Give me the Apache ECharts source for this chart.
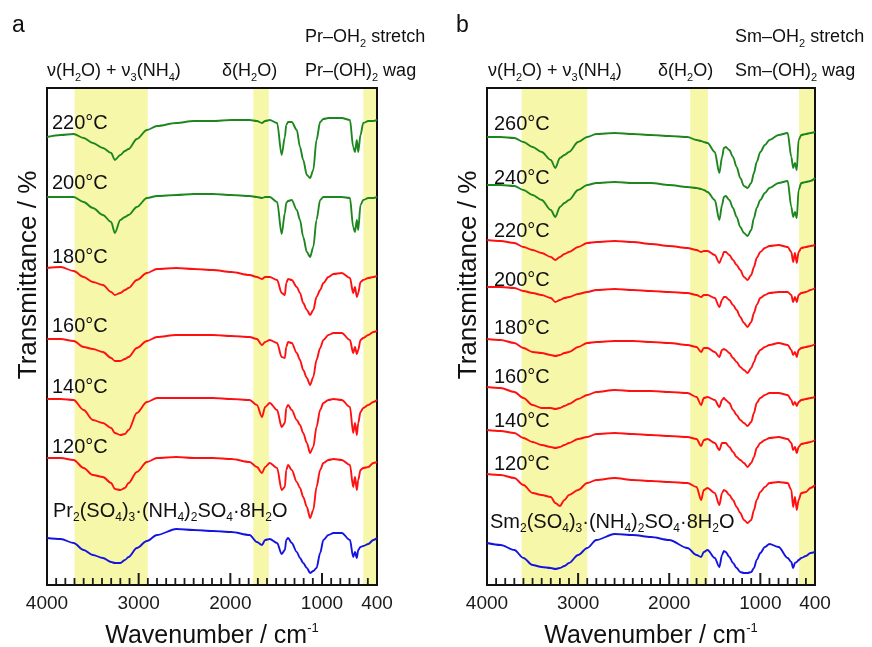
<!DOCTYPE html>
<html>
<head>
<meta charset="utf-8">
<script src="https://cdn.jsdelivr.net/npm/echarts@6.0.0/dist/echarts.min.js"></script>
<style>html,body{margin:0;padding:0;background:#fff}#main{width:872px;height:647px}</style>
</head>
<body>
<div id="main"></div>
<script>
var chartDom = document.getElementById('main');
var myChart = echarts.init(chartDom);

var FAM = '"Liberation Sans", Arial, sans-serif';
var green = '#1e861e', red = '#ff1010', blue = '#1414e0', bandColor = '#f7f7aa';

// wavenumber sampling (cm-1), panel a / panel b
var wnA = [4000, 3850, 3710, 3600, 3500, 3390, 3300, 3260, 3200, 3150, 3110, 3020, 2910, 2800, 2590, 2400, 2190, 1990, 1790, 1710, 1655, 1620, 1570, 1490, 1440, 1405, 1390, 1370, 1330, 1275, 1240, 1205, 1165, 1130, 1095, 1060, 1020, 985, 930, 875, 785, 695, 660, 640, 620, 605, 580, 550, 495, 440, 400];
var wnB = [4000, 3850, 3700, 3600, 3500, 3400, 3300, 3250, 3200, 3150, 3100, 3000, 2900, 2800, 2600, 2400, 2200, 2000, 1800, 1700, 1650, 1620, 1580, 1500, 1450, 1420, 1400, 1380, 1340, 1300, 1260, 1220, 1180, 1140, 1100, 1070, 1040, 1000, 950, 900, 800, 700, 660, 640, 620, 600, 580, 550, 500, 450, 400];

// stacked transmittance (a.u.), panel a (Pr)
var a220 = [448,450,451,447,442,437,432,425,430,434,436,446,455,459,462,464,464,465,465,464,462,464,465,462,430,448,460,463,463,455,438,425,410,407,415,445,463,466,467,467,467,465,438,433,445,433,450,462,464,464,465];
var a200 = [388,388,388,383,377,370,363,352,365,368,370,378,387,389,390,391,391,390,389,388,387,388,388,383,351,372,382,384,385,375,365,348,333,328,338,365,385,388,388,388,388,387,358,353,365,355,380,385,387,387,388];
var a180 = [317,318,314,308,303,300,293,290,292,295,297,305,312,316,317,316,315,313,310,308,306,308,308,305,292,290,302,306,305,298,292,282,275,270,275,288,295,302,308,311,312,307,292,298,288,292,303,305,307,308,309];
var a160 = [246,246,244,238,236,233,227,224,224,226,228,237,244,248,250,250,250,249,248,246,240,243,245,242,228,227,238,243,242,232,225,215,207,200,208,225,237,245,250,252,252,245,232,238,231,235,245,247,250,253,254];
var a140 = [186,186,185,175,165,162,157,152,150,151,155,172,183,187,187,187,187,186,185,180,168,178,182,175,158,162,177,180,175,165,160,152,142,132,138,158,175,182,185,186,185,178,152,162,150,162,173,177,180,183,185];
var a120 = [127,127,125,117,110,108,102,96,95,97,102,113,123,127,128,127,127,126,123,118,112,118,122,117,95,98,115,120,115,103,97,88,78,67,75,98,115,122,125,126,125,120,98,108,95,105,115,117,118,122,123];
var aPr = [47,46,42,35,30,27,23,22,22,25,28,37,44,50,56,55,54,53,50,43,40,45,46,42,31,35,45,47,42,33,27,22,17,12,14,17,32,45,50,52,52,45,28,33,27,35,38,39,41,45,47];

// panel b (Sm)
var b260 = [448,448,447,443,438,433,425,417,427,430,433,443,448,451,452,451,450,449,448,445,444,443,442,433,412,428,437,438,435,428,418,407,399,397,402,412,423,433,440,445,450,452,428,417,422,415,445,450,451,452,453];
var b240 = [400,400,399,395,390,385,375,368,378,382,385,395,400,402,403,402,402,400,398,397,396,395,393,385,365,380,388,389,385,377,368,358,352,349,355,367,377,385,392,397,402,404,378,368,373,367,395,402,403,404,407];
var b220 = [345,344,342,338,335,332,328,325,328,331,333,338,342,343,344,343,341,339,337,335,333,334,334,330,322,328,333,333,330,325,320,315,308,305,310,318,327,333,337,339,340,338,333,323,332,322,333,337,338,339,340];
var b200 = [298,298,297,294,292,290,287,283,285,287,288,291,293,295,296,295,294,293,292,290,288,290,290,287,278,285,288,288,285,280,275,268,262,258,263,272,280,287,290,292,293,293,290,283,288,283,290,292,293,295,297];
var b180 = [246,245,242,237,233,232,230,229,230,232,233,238,242,243,244,244,243,242,240,238,233,237,237,233,228,235,236,235,232,227,223,218,215,212,217,223,230,235,238,240,242,240,235,230,233,228,235,237,238,239,241];
var b160 = [198,197,193,187,180,177,177,176,177,179,181,186,190,193,195,194,194,193,192,188,180,187,188,185,178,185,187,185,182,175,170,165,162,159,163,172,182,187,190,192,192,190,185,180,183,179,183,185,186,187,188];
var b140 = [155,154,152,147,143,140,138,137,138,140,142,146,148,151,152,151,150,149,148,146,139,145,146,142,135,142,142,142,138,133,128,125,122,118,122,128,137,142,145,147,148,146,142,135,138,132,138,141,142,143,145];
var b120 = [111,110,107,100,92,90,88,82,79,85,90,95,102,105,107,105,104,103,102,98,85,95,97,92,80,92,95,94,90,85,78,72,65,62,65,75,85,93,98,102,103,102,95,78,88,75,85,92,93,97,100];
var bSm = [42,40,35,27,20,18,17,16,17,19,22,30,37,45,51,50,48,45,37,30,28,33,35,27,18,30,34,33,28,22,17,13,12,12,13,17,25,32,38,41,38,27,23,17,22,23,25,27,29,32,33];

// highlighted regions (cm-1)
var bandsA = [[3700, 2900], [1750, 1580], [550, 400]];
var bandsB = [[3620, 2900], [1770, 1575], [575, 400]];

var xLabels = [4000, 3000, 2000, 1000, 400];
var xMajor = [3000, 2000, 1000];
var xMinor = [];
for (var w = 500; w < 4000; w += 100) if (xMajor.indexOf(w) < 0) xMinor.push(w);

var Y_MAX = 497;

function curve(gi, wn, vals, color) {
  return {
    type: 'line', xAxisIndex: gi, yAxisIndex: gi,
    data: wn.map(function (x, i) { return [x, vals[i]]; }),
    symbol: 'none', showSymbol: false, smooth: 0.3, smoothMonotone: 'x',
    lineStyle: { color: color, width: 1.9 }, z: 3, silent: true
  };
}

function bands(gi, list) {
  return {
    type: 'custom', xAxisIndex: gi, yAxisIndex: gi, data: list, z: 1, silent: true,
    renderItem: function (params, api) {
      var p0 = api.coord([api.value(0), Y_MAX]);
      var p1 = api.coord([api.value(1), 0]);
      return {
        type: 'rect',
        shape: { x: Math.min(p0[0], p1[0]), y: p0[1], width: Math.abs(p1[0] - p0[0]), height: p1[1] - p0[1] },
        style: { fill: bandColor }
      };
    }
  };
}

// inward tick marks: one thin rect per wavenumber, through the axis scale
function ticks(gi, list, len, wid) {
  return {
    type: 'custom', xAxisIndex: gi, yAxisIndex: gi, z: 8, silent: true, clip: false,
    data: list.map(function (v) { return [v, 0]; }),
    renderItem: function (params, api) {
      var p = api.coord([api.value(0), 0]);
      return {
        type: 'rect',
        shape: { x: p[0] - wid / 2, y: p[1] - len, width: wid, height: len },
        style: { fill: '#1a1a1a' }
      };
    }
  };
}

function xAxisFor(gi) {
  return {
    type: 'value', gridIndex: gi, position: 'bottom', inverse: true, min: 400, max: 4000, z: 5,
    axisLine: { show: false, onZero: false },
    splitLine: { show: false },
    axisTick: { show: false },
    axisLabel: { customValues: xLabels, fontSize: 19, color: '#1a1a1a', fontFamily: FAM, margin: 9,
      formatter: function (v) { return String(v); } }
  };
}
function yAxisFor(gi) {
  return { type: 'value', gridIndex: gi, min: 0, max: Y_MAX, show: false };
}

function rs(size, lh, extra) {
  var o = { fontSize: size, fontFamily: FAM, font: size + 'px ' + FAM, lineHeight: lh, fill: '#111' };
  for (var k in extra) o[k] = extra[k];
  return o;
}

function txt(x, y, text, size, opt) {
  opt = opt || {};
  return {
    type: 'text', x: x, y: y, rotation: opt.rotation || 0, silent: true, z: 10,
    style: {
      text: text, fill: '#111', fontSize: size, fontFamily: FAM, font: size + 'px ' + FAM,
      align: opt.align || 'left', verticalAlign: 'middle',
      textAlign: opt.align || 'left', textVerticalAlign: 'middle',
      rich: opt.rich
    }
  };
}

var annRich = { n: rs(18, 25), s: rs(11, 11, { verticalAlign: 'bottom' }) };
var cmpRich = { n: rs(20, 26), s: rs(12, 12, { verticalAlign: 'bottom' }) };
var titleRich = { n: rs(25, 28), p: rs(13, 18, { verticalAlign: 'top' }) };

var nuLabel = '{n|ν(H}{s|2}{n|O) + ν}{s|3}{n|(NH}{s|4}{n|)}';
var deltaLabel = '{n|δ(H}{s|2}{n|O)}';

var tempsA = ['220°C', '200°C', '180°C', '160°C', '140°C', '120°C'];
var tempsAy = [123, 183, 257, 326, 387, 447];
var tempsB = ['260°C', '240°C', '220°C', '200°C', '180°C', '160°C', '140°C', '120°C'];
var tempsBy = [124, 178, 231, 280, 328, 377, 421, 464];

var graphics = [
  txt(12, 26, 'a', 23), txt(456, 26, 'b', 23),
  txt(47, 71, nuLabel, 18, { rich: annRich }),
  txt(222, 71, deltaLabel, 18, { rich: annRich }),
  txt(305, 37, '{n|Pr–OH}{s|2}{n| stretch}', 18, { rich: annRich }),
  txt(305, 71, '{n|Pr–(OH)}{s|2}{n| wag}', 18, { rich: annRich }),
  txt(488, 71, nuLabel, 18, { rich: annRich }),
  txt(658, 71, deltaLabel, 18, { rich: annRich }),
  txt(735, 37, '{n|Sm–OH}{s|2}{n| stretch}', 18, { rich: annRich }),
  txt(735, 71, '{n|Sm–(OH)}{s|2}{n| wag}', 18, { rich: annRich }),
  txt(53, 511, '{n|Pr}{s|2}{n|(SO}{s|4}{n|)}{s|3}{n|·(NH}{s|4}{n|)}{s|2}{n|SO}{s|4}{n|·8H}{s|2}{n|O}', 20, { rich: cmpRich }),
  txt(490, 522, '{n|Sm}{s|2}{n|(SO}{s|4}{n|)}{s|3}{n|·(NH}{s|4}{n|)}{s|2}{n|SO}{s|4}{n|·8H}{s|2}{n|O}', 20, { rich: cmpRich }),
  txt(29, 275, 'Transmittance / %', 26, { align: 'center', rotation: Math.PI / 2 }),
  txt(469, 275, 'Transmittance / %', 26, { align: 'center', rotation: Math.PI / 2 }),
  txt(212, 636, '{n|Wavenumber / cm}{p|-1}', 25, { align: 'center', rich: titleRich }),
  txt(651, 636, '{n|Wavenumber / cm}{p|-1}', 25, { align: 'center', rich: titleRich })
];
tempsA.forEach(function (t, i) { graphics.push(txt(52, tempsAy[i], t, 20)); });
tempsB.forEach(function (t, i) { graphics.push(txt(494, tempsBy[i], t, 20)); });

var gridStyle = { show: true, borderColor: '#111', borderWidth: 2, backgroundColor: 'transparent', containLabel: false, outerBoundsMode: 'none', z: 2 };
function gridAt(left, width) {
  var g = { left: left, top: 88, width: width, height: 497 };
  for (var k in gridStyle) g[k] = gridStyle[k];
  return g;
}

var option = {
  animation: false,
  backgroundColor: '#fff',
  grid: [gridAt(47, 330), gridAt(487, 328)],
  xAxis: [xAxisFor(0), xAxisFor(1)],
  yAxis: [yAxisFor(0), yAxisFor(1)],
  graphic: graphics,
  series: [
    bands(0, bandsA),
    ticks(0, xMinor, 7, 1.8),
    ticks(0, xMajor, 12, 2),
    curve(0, wnA, aPr, blue),
    curve(0, wnA, a120, red),
    curve(0, wnA, a140, red),
    curve(0, wnA, a160, red),
    curve(0, wnA, a180, red),
    curve(0, wnA, a200, green),
    curve(0, wnA, a220, green),
    bands(1, bandsB),
    ticks(1, xMinor, 7, 1.8),
    ticks(1, xMajor, 12, 2),
    curve(1, wnB, bSm, blue),
    curve(1, wnB, b120, red),
    curve(1, wnB, b140, red),
    curve(1, wnB, b160, red),
    curve(1, wnB, b180, red),
    curve(1, wnB, b200, red),
    curve(1, wnB, b220, red),
    curve(1, wnB, b240, green),
    curve(1, wnB, b260, green)
  ]
};

myChart.setOption(option);
</script>
</body>
</html>
